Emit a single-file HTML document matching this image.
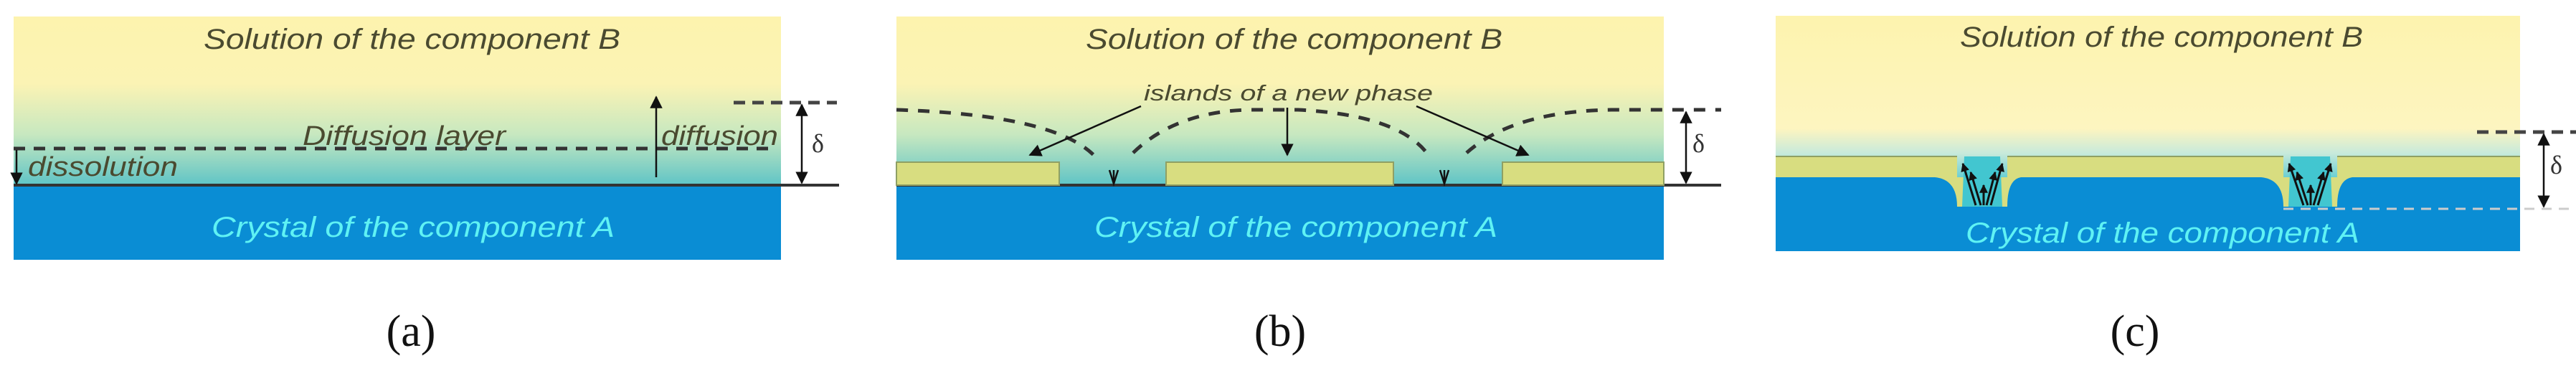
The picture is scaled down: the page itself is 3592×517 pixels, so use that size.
<!DOCTYPE html>
<html><head><meta charset="utf-8"><style>
html,body{margin:0;padding:0;background:#fff;}
svg{display:block;}
.t{font-family:"Liberation Sans",sans-serif;font-style:italic;}
.s{font-family:"Liberation Serif",serif;}
</style></head><body>
<svg width="3592" height="517" viewBox="0 0 3592 517" xmlns="http://www.w3.org/2000/svg">
<defs>
<linearGradient id="ga" x1="0" y1="0" x2="0" y2="1">
<stop offset="0" stop-color="#fdf3ae"/><stop offset="0.4" stop-color="#fbf3b4"/><stop offset="0.7" stop-color="#c7e8c0"/><stop offset="1" stop-color="#5fc4c6"/></linearGradient>
<linearGradient id="gc" x1="0" y1="0" x2="0" y2="1">
<stop offset="0" stop-color="#fdf3ae"/><stop offset="0.7" stop-color="#fdf5c0"/><stop offset="0.85" stop-color="#c8eadb"/><stop offset="1" stop-color="#6ccfd2"/></linearGradient>
<marker id="ah" viewBox="0 0 10 10" refX="9" refY="5" markerWidth="7" markerHeight="7" orient="auto-start-reverse"><path d="M0,0 L10,5 L0,10 z" fill="#111"/></marker>
<marker id="ahs" viewBox="0 0 10 10" refX="9" refY="5" markerWidth="4" markerHeight="4" orient="auto"><path d="M0,0 L10,5 L0,10 z" fill="#111"/></marker>
</defs>

<!-- Panel A -->
<rect x="19" y="23" width="1070" height="235" fill="url(#ga)"/>
<rect x="19" y="258" width="1070" height="104" fill="#0a8dd4"/>
<line x1="19" y1="258" x2="1170" y2="258" stroke="#333" stroke-width="4"/>
<line x1="19" y1="207" x2="1075" y2="207" stroke="#333" stroke-width="5" stroke-dasharray="16,12"/>
<line x1="1023" y1="143" x2="1167" y2="143" stroke="#444" stroke-width="5" stroke-dasharray="16,10"/>
<line x1="1118" y1="146" x2="1118" y2="255" stroke="#111" stroke-width="2.5" marker-start="url(#ah)" marker-end="url(#ah)"/>
<line x1="915" y1="247" x2="915" y2="135" stroke="#111" stroke-width="2.5" marker-end="url(#ah)"/>
<line x1="23" y1="209" x2="23" y2="256" stroke="#111" stroke-width="2.5" marker-end="url(#ah)"/>
<text class="t" x="284" y="68" font-size="40" fill="#4a4a30" textLength="581" lengthAdjust="spacingAndGlyphs">Solution of the component B</text>
<text class="t" x="422" y="202" font-size="38" fill="#4a4a30" textLength="283" lengthAdjust="spacingAndGlyphs">Diffusion layer</text>
<text class="t" x="922" y="202" font-size="38" fill="#4a4a30" textLength="163" lengthAdjust="spacingAndGlyphs">diffusion</text>
<text class="t" x="39" y="245" font-size="38" fill="#4a4a30" textLength="209" lengthAdjust="spacingAndGlyphs">dissolution</text>
<text class="t" x="295" y="330" font-size="40" fill="#5ff2f4" textLength="562" lengthAdjust="spacingAndGlyphs">Crystal of the component A</text>
<text class="s" x="1132" y="212" font-size="36" fill="#333">δ</text>
<text class="s" x="573" y="482" font-size="62" fill="#111" text-anchor="middle">(a)</text>

<!-- Panel B -->
<rect x="1250" y="23" width="1070" height="235" fill="url(#ga)"/>
<rect x="1250" y="258" width="1070" height="104" fill="#0a8dd4"/>
<line x1="1250" y1="258" x2="2400" y2="258" stroke="#333" stroke-width="4"/>
<rect x="1250" y="226" width="227" height="32" fill="#d8dd80" stroke="#8fa064" stroke-width="2"/>
<rect x="1626" y="226" width="317" height="32" fill="#d8dd80" stroke="#8fa064" stroke-width="2"/>
<rect x="2095" y="226" width="225" height="32" fill="#d8dd80" stroke="#8fa064" stroke-width="2"/>
<g fill="none" stroke="#333" stroke-width="5" stroke-dasharray="16,14">
<path d="M1250,153 Q1470,160 1526,217"/>
<path d="M1580,213 Q1640,155 1743,153 L1810,153 Q1950,160 1991,215"/>
<path d="M2045,213 Q2110,155 2247,153 L2400,153"/>
</g>
<g fill="none" stroke="#111" stroke-width="2.5">
<path d="M1547,237 L1553,256 L1559,237"/><line x1="1553" y1="237" x2="1553" y2="256"/>
<path d="M2008,237 L2014,256 L2020,237"/><line x1="2014" y1="237" x2="2014" y2="256"/>
</g>
<line x1="1591" y1="148" x2="1436" y2="216" stroke="#111" stroke-width="2.5" marker-end="url(#ah)"/>
<line x1="1795" y1="150" x2="1795" y2="216" stroke="#111" stroke-width="2.5" marker-end="url(#ah)"/>
<line x1="1975" y1="148" x2="2131" y2="216" stroke="#111" stroke-width="2.5" marker-end="url(#ah)"/>
<line x1="2351" y1="156" x2="2351" y2="255" stroke="#111" stroke-width="2.5" marker-start="url(#ah)" marker-end="url(#ah)"/>
<text class="t" x="1514" y="68" font-size="40" fill="#4a4a30" textLength="581" lengthAdjust="spacingAndGlyphs">Solution of the component B</text>
<text class="t" x="1595" y="140" font-size="31" fill="#4a4a30" textLength="403" lengthAdjust="spacingAndGlyphs">islands of a new phase</text>
<text class="t" x="1526" y="330" font-size="40" fill="#5ff2f4" textLength="562" lengthAdjust="spacingAndGlyphs">Crystal of the component A</text>
<text class="s" x="2360" y="212" font-size="36" fill="#333">δ</text>
<text class="s" x="1785" y="482" font-size="62" fill="#111" text-anchor="middle">(b)</text>

<!-- Panel C -->
<rect x="2476" y="22" width="1038" height="225" fill="url(#gc)"/>
<rect x="2476" y="247" width="1038" height="103" fill="#0a8dd4"/>
<g fill="#d8dd80">
<rect x="2476" y="218" width="253" height="29"/>
<rect x="2799" y="218" width="385" height="29"/>
<rect x="3259" y="218" width="255" height="29"/>
<path d="M2698,247 Q2729,250 2729,288 L2799,288 Q2799,250 2818,247 Z"/>
<path d="M3153,247 Q3184,250 3184,288 L3259,288 Q3259,250 3280,247 Z"/>
</g>
<g fill="#42c6d0">
<path d="M2739,218 L2789,218 L2792,288 L2736,288 Z"/>
<path d="M3194,218 L3249,218 L3252,288 L3191,288 Z"/>
</g>
<line x1="2476" y1="218" x2="2729" y2="218" stroke="#8fa064" stroke-width="2"/>
<line x1="2799" y1="218" x2="3184" y2="218" stroke="#8fa064" stroke-width="2"/>
<line x1="3259" y1="218" x2="3514" y2="218" stroke="#8fa064" stroke-width="2"/>
<g stroke="#111" stroke-width="3" marker-end="url(#ahs)">
<line x1="2755" y1="286" x2="2737" y2="228"/><line x1="2762" y1="286" x2="2748" y2="240"/>
<line x1="2766" y1="286" x2="2766" y2="258"/><line x1="2770" y1="286" x2="2782" y2="240"/>
<line x1="2776" y1="286" x2="2792" y2="228"/>
<line x1="3212" y1="286" x2="3192" y2="228"/><line x1="3218" y1="286" x2="3203" y2="240"/>
<line x1="3222" y1="286" x2="3222" y2="258"/><line x1="3226" y1="286" x2="3240" y2="240"/>
<line x1="3232" y1="286" x2="3250" y2="228"/>
</g>
<line x1="3454" y1="184" x2="3592" y2="184" stroke="#444" stroke-width="5" stroke-dasharray="16,10"/>
<line x1="3184" y1="291" x2="3592" y2="291" stroke="#ccc" stroke-width="3" stroke-dasharray="14,10"/>
<line x1="3547" y1="187" x2="3547" y2="288" stroke="#111" stroke-width="2.5" marker-start="url(#ah)" marker-end="url(#ah)"/>
<text class="s" x="3556" y="242" font-size="36" fill="#333">δ</text>
<text class="t" x="2733" y="65" font-size="40" fill="#4a4a30" textLength="562" lengthAdjust="spacingAndGlyphs">Solution of the component B</text>
<text class="t" x="2741" y="338" font-size="40" fill="#5ff2f4" textLength="549" lengthAdjust="spacingAndGlyphs">Crystal of the component A</text>
<text class="s" x="2977" y="482" font-size="62" fill="#111" text-anchor="middle">(c)</text>
</svg>
</body></html>
